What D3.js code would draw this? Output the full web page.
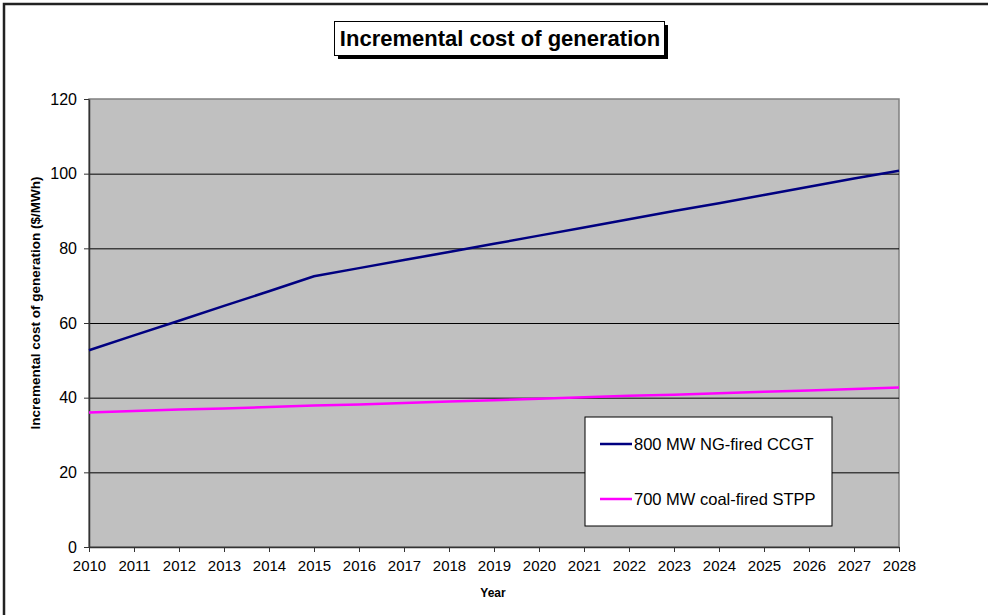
<!DOCTYPE html>
<html>
<head>
<meta charset="utf-8">
<script src="https://cdn.jsdelivr.net/npm/d3@7"></script>
<style>
  body { margin: 0; background: #fff; }
  text { font-family: "Liberation Sans", Arial, sans-serif; }
</style>
</head>
<body>
<div id="chart"></div>
<script>
// data
var years = [2010, 2011, 2012, 2013, 2014, 2015, 2016, 2017, 2018, 2019,
             2020, 2021, 2022, 2023, 2024, 2025, 2026, 2027, 2028];
var ccgt = [52.7, 56.7, 60.6, 64.6, 68.5, 72.5, 74.7, 76.9, 79.0, 81.2,
            83.4, 85.6, 87.8, 90.0, 92.1, 94.3, 96.5, 98.7, 100.8];
var stpp = [36.0, 36.4, 36.8, 37.1, 37.5, 37.9, 38.2, 38.6, 39.0, 39.3,
            39.7, 40.1, 40.5, 40.8, 41.2, 41.6, 41.9, 42.3, 42.7];
var yTicks = [0, 20, 40, 60, 80, 100, 120];
var seriesNames = ["800 MW NG-fired CCGT", "700 MW coal-fired STPP"];
var seriesColors = ["#000080", "#ff00ff"];

var w = 988, h = 615;
var m = {top: 99, right: 89, bottom: 68, left: 89};
var pw = w - m.left - m.right, ph = h - m.top - m.bottom;

var svg = d3.select("#chart")
            .append("svg")
            .attr("width", w)
            .attr("height", h);

// outer chart frame
svg.append("rect")
   .attr("x", 4).attr("y", 4)
   .attr("width", w + 10).attr("height", h + 10)
   .attr("fill", "none")
   .attr("stroke", "#222")
   .attr("stroke-width", 2.5);

var xScale = d3.scaleLinear().domain([2010, 2028]).range([0, pw]);
var yScale = d3.scaleLinear().domain([0, 120]).range([ph, 0]);

var g = svg.append("g")
           .attr("transform", "translate(" + m.left + "," + m.top + ")");

// plot area
g.append("rect")
 .attr("width", pw).attr("height", ph)
 .attr("fill", "#c0c0c0")
 .attr("stroke", "#808080")
 .attr("stroke-width", 1.5);

// gridlines
g.selectAll(".grid")
 .data(yTicks.filter(function(d){ return d > 0 && d < 120; }))
 .enter()
 .append("line")
 .attr("x1", 0).attr("x2", pw)
 .attr("y1", function(d){ return yScale(d) + 0.5; })
 .attr("y2", function(d){ return yScale(d) + 0.5; })
 .attr("stroke", "#000")
 .attr("stroke-width", 1);

// axes
var xAxis = d3.axisBottom(xScale)
              .tickValues(years)
              .tickFormat(d3.format("d"))
              .tickSize(5)
              .tickSizeOuter(0);
var yAxis = d3.axisLeft(yScale)
              .tickValues(yTicks)
              .tickSize(5)
              .tickSizeOuter(0);

var gx = g.append("g")
          .attr("transform", "translate(0," + ph + ")")
          .call(xAxis);
var gy = g.append("g").call(yAxis);

[gx, gy].forEach(function(a){
  a.select(".domain").attr("stroke", "#333").attr("stroke-width", 1.5);
  a.selectAll(".tick line").attr("stroke", "#333");
  a.selectAll(".tick text")
   .attr("fill", "#000")
   .style("font-size", "15px")
   .style("font-family", "'Liberation Sans', Arial, sans-serif");
});
gx.selectAll(".tick text").attr("dy", "1.05em").attr("y", 8);
gy.selectAll(".tick text").attr("x", -12).style("font-size", "16px");

// lines
var line = d3.line()
             .x(function(d, i){ return xScale(years[i]); })
             .y(function(d){ return yScale(d); });

[ccgt, stpp].forEach(function(s, i){
  g.append("path")
   .datum(s)
   .attr("d", line)
   .attr("fill", "none")
   .attr("stroke", seriesColors[i])
   .attr("stroke-width", 2.5);
});

// legend
var legend = svg.append("g").attr("transform", "translate(585,417)");
legend.append("rect")
      .attr("width", 247).attr("height", 109)
      .attr("fill", "#fff")
      .attr("stroke", "#000")
      .attr("stroke-width", 1);
seriesNames.forEach(function(name, i){
  var yy = 27 + i * 55;
  legend.append("line")
        .attr("x1", 15).attr("x2", 47)
        .attr("y1", yy).attr("y2", yy)
        .attr("stroke", seriesColors[i])
        .attr("stroke-width", 2.5);
  legend.append("text")
        .attr("x", 49).attr("y", yy + 6)
        .style("font-size", "16.5px")
        .text(name);
});

// title box with shadow
svg.append("rect")
   .attr("x", 338).attr("y", 25)
   .attr("width", 330).attr("height", 34)
   .attr("fill", "#000");
svg.append("rect")
   .attr("x", 334.5).attr("y", 21.5)
   .attr("width", 330).attr("height", 34)
   .attr("fill", "#fff")
   .attr("stroke", "#000")
   .attr("stroke-width", 1);
svg.append("text")
   .attr("x", 500).attr("y", 46)
   .attr("text-anchor", "middle")
   .style("font-size", "22px")
   .style("font-weight", "bold")
   .text("Incremental cost of generation");

// axis titles
svg.append("text")
   .attr("x", 493).attr("y", 597)
   .attr("text-anchor", "middle")
   .style("font-size", "12px")
   .style("font-weight", "bold")
   .text("Year");
svg.append("text")
   .attr("transform", "translate(40,303) rotate(-90)")
   .attr("text-anchor", "middle")
   .style("font-size", "13.5px")
   .style("font-weight", "bold")
   .text("Incremental cost of generation ($/MWh)");
</script>
</body>
</html>
